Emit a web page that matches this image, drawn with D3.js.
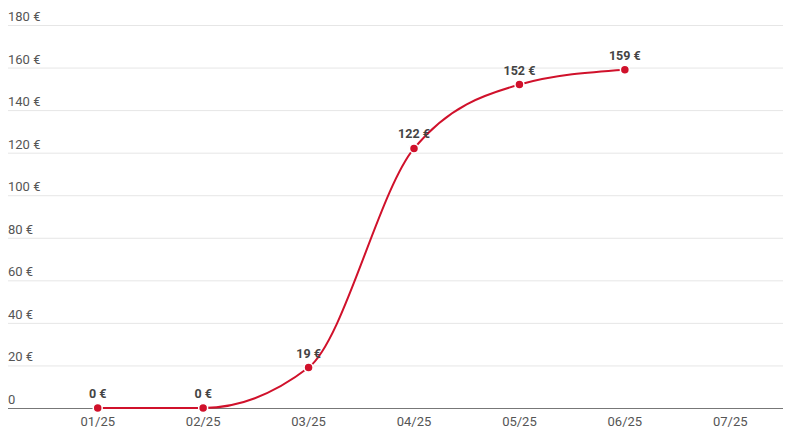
<!DOCTYPE html>
<html><head><meta charset="utf-8">
<script src="https://cdn.jsdelivr.net/npm/d3@7"></script>
<style>body{margin:0;background:#fff;}svg{display:block;font-family:Roboto, sans-serif;}</style>
</head><body>
<svg id="c" width="790" height="433"></svg>
<script>
const categories = ["01/25","02/25","03/25","04/25","05/25","06/25","07/25"];
const values = [0, 0, 19, 122, 152, 159];
const yTicks = [0,20,40,60,80,100,120,140,160,180];

const svg = d3.select("#c");
const x = d3.scaleBand().domain(categories).range([45, 783]);
const y = d3.scaleLinear().domain([0,180]).range([408, 25]);
const cx = c => x(c) + x.bandwidth()/2;
const fmt = v => v === 0 ? "0" : v + " €";

// grid
svg.append("g").selectAll("line").data(yTicks.filter(t=>t>0)).join("line")
  .attr("x1", 8).attr("x2", 783).attr("y1", d=>y(d)+0.5).attr("y2", d=>y(d)+0.5)
  .attr("stroke", "#e6e6e6").attr("stroke-width", 1);
svg.append("g").selectAll("text").data(yTicks).join("text")
  .attr("x", 8).attr("y", d=>y(d)-4).text(fmt)
  .attr("font-size", 13).attr("fill", "#555");
// baseline
svg.append("line").attr("x1", 8).attr("x2", 783).attr("y1", y(0)+0.5).attr("y2", y(0)+0.5)
  .attr("stroke", "#777").attr("stroke-width", 1);
// x labels
svg.append("g").selectAll("text").data(categories).join("text")
  .attr("x", d=>cx(d)).attr("y", 426).attr("text-anchor","middle")
  .text(d=>d).attr("font-size", 13).attr("fill", "#555");

const pts = values.map((v,i)=>({c:categories[i], v}));
const line = d3.line().x(d=>cx(d.c)).y(d=>y(d.v)).curve(d3.curveMonotoneX);
svg.append("path").datum(pts).attr("d", line).attr("fill","none")
  .attr("stroke","#d0112b").attr("stroke-width",2);
svg.append("g").selectAll("circle").data(pts).join("circle")
  .attr("cx", d=>cx(d.c)).attr("cy", d=>y(d.v)).attr("r", 4.5)
  .attr("fill","#d0112b").attr("stroke","#fff").attr("stroke-width",1.5);
svg.append("g").selectAll("text").data(pts).join("text")
  .attr("x", d=>cx(d.c)).attr("y", d=>y(d.v)-10).attr("text-anchor","middle")
  .text(d=>d.v + " €").attr("font-size", 12.5).attr("font-weight","bold").attr("fill","#444");
</script>
</body></html>
